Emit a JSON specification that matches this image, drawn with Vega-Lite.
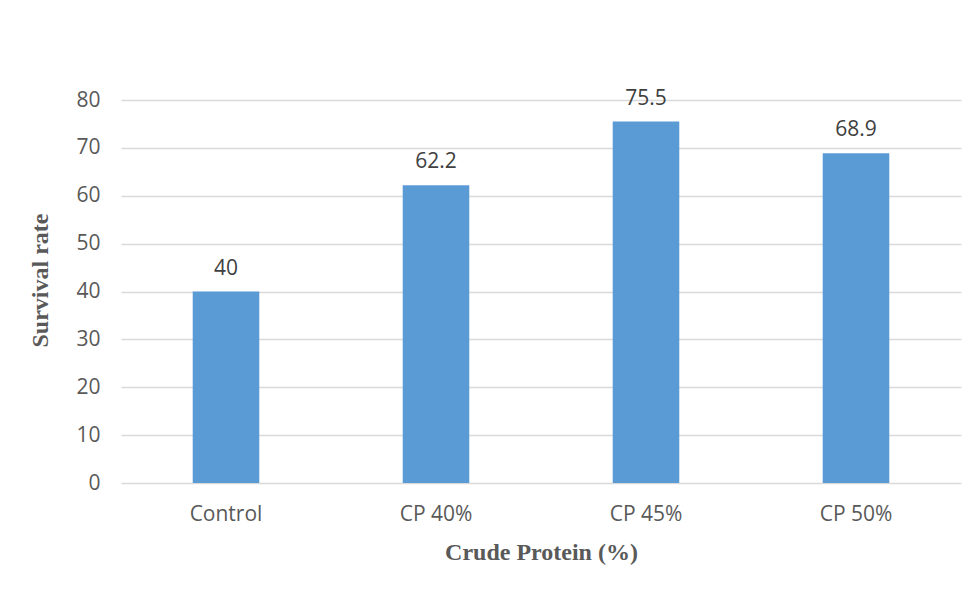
{
  "$schema": "https://vega.github.io/schema/vega-lite/v6.json",
  "width": 840,
  "height": 383,
  "autosize": {"type": "none"},
  "padding": {"left": 121, "top": 100, "right": 17, "bottom": 110},
  "background": "white",
  "config": {"view": {"stroke": null}},
  "data": {"values": [
    {"group": "Control", "rate": 40, "label": "40"},
    {"group": "CP 40%", "rate": 62.2, "label": "62.2"},
    {"group": "CP 45%", "rate": 75.5, "label": "75.5"},
    {"group": "CP 50%", "rate": 68.9, "label": "68.9"}
  ]},
  "encoding": {
    "x": {
      "field": "group", "type": "nominal", "sort": null,
      "scale": {"paddingInner": 0.683, "paddingOuter": 0.3415},
      "axis": {
        "title": "Crude Protein (%)",
        "titleFont": "Liberation Serif", "titleFontWeight": "bold", "titleFontSize": 24, "titleColor": "#595959",
        "titleBaseline": "middle", "titleY": 69,
        "labelFont": "Open Sans", "labelFontSize": 21, "labelColor": "#595959", "labelAngle": 0,
        "labelPadding": 20, "ticks": false, "domain": false
      }
    },
    "y": {
      "field": "rate", "type": "quantitative",
      "scale": {"domain": [0, 80]},
      "axis": {
        "values": [0, 10, 20, 30, 40, 50, 60, 70, 80],
        "title": "Survival rate",
        "titleFont": "Liberation Serif", "titleFontWeight": "bold", "titleFontSize": 24, "titleColor": "#595959",
        "titleBaseline": "middle", "titleX": -81, "titleY": 180, "titleAngle": -90,
        "labelFont": "Open Sans", "labelFontSize": 21, "labelColor": "#595959",
        "labelPadding": 21, "ticks": false, "domain": false,
        "grid": true, "gridColor": "#D9D9D9", "gridWidth": 1.5
      }
    }
  },
  "layer": [
    {"mark": {"type": "bar", "color": "#5B9BD5"}},
    {
      "mark": {"type": "text", "font": "Open Sans", "fontSize": 21, "color": "#404040", "baseline": "alphabetic", "dy": -17},
      "encoding": {"text": {"field": "label"}}
    }
  ]
}
